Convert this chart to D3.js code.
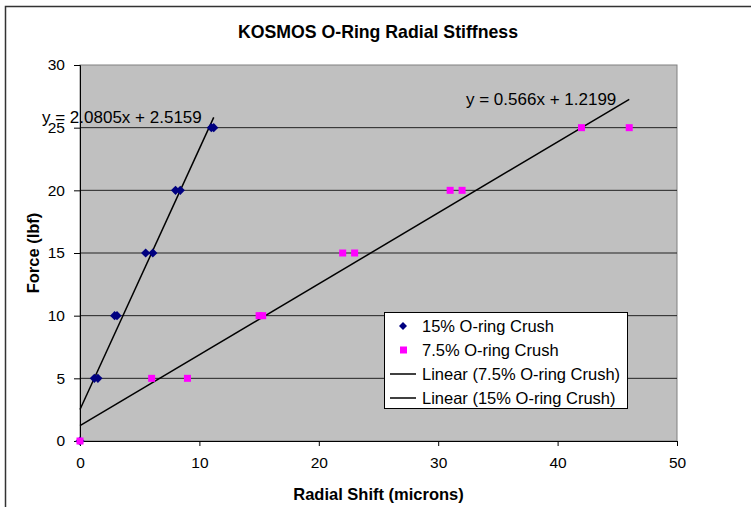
<!DOCTYPE html>
<html>
<head>
<meta charset="utf-8">
<script src="https://cdn.jsdelivr.net/npm/d3@7"></script>
<style>
  body { margin: 0; background: #fff; }
  text { font-family: "Liberation Sans", Arial, sans-serif; fill: #000; }
</style>
</head>
<body>
<svg></svg>
<script>
// 15% crush (navy diamonds)
let shift15 = [0, 1.2, 1.5, 2.9, 3.1, 5.5, 6.1, 8.0, 8.4, 11.0, 11.2];
let force15 = [0, 5, 5, 10, 10, 15, 15, 20, 20, 25, 25];
// 7.5% crush (magenta squares)
let shift75 = [0, 6, 9, 15, 15.3, 22, 23, 31, 32, 42, 46];
let force75 = [0, 5, 5, 10, 10, 15, 15, 20, 20, 25, 25];

// trendlines: [slope, intercept]
let fit15 = [2.0805, 2.5159];
let fit75 = [0.566, 1.2199];

let xTicks = [0, 10, 20, 30, 40, 50];
let yTicks = [0, 5, 10, 15, 20, 25, 30];
let legendLabels = ["15% O-ring Crush", "7.5% O-ring Crush", "Linear (7.5% O-ring Crush)", "Linear (15% O-ring Crush)"];

let width = 751;
let height = 507;
let plotLeft = 80, plotRight = 677, plotTop = 65, plotBottom = 441;

let svg = d3.select("svg").attr("width", width).attr("height", height);

let xScale = d3.scaleLinear().domain([0, 50]).range([plotLeft, plotRight]);
let yScale = d3.scaleLinear().domain([0, 30]).range([plotBottom, plotTop]);

// chart frame (runs off the picture on the right and bottom)
svg.append("rect")
  .attr("x", 5.5).attr("y", 6.5)
  .attr("width", 800).attr("height", 600)
  .attr("fill", "#fff").attr("stroke", "#333").attr("stroke-width", 1.5);

// plot area
svg.append("rect")
  .attr("x", plotLeft).attr("y", plotTop)
  .attr("width", plotRight - plotLeft).attr("height", plotBottom - plotTop)
  .attr("fill", "#c0c0c0").attr("stroke", "#808080");

// gridlines
svg.append("g")
  .selectAll("line")
  .data(yTicks.filter((d) => d > 0 && d < 30))
  .enter()
  .append("line")
  .attr("x1", plotLeft).attr("x2", plotRight)
  .attr("y1", (d) => yScale(d)).attr("y2", (d) => yScale(d))
  .attr("stroke", "#222").attr("stroke-width", 1);

// axes
let yAxis = d3.axisLeft(yScale).tickValues(yTicks).tickSize(6).tickPadding(9);
let xAxis = d3.axisBottom(xScale).tickValues(xTicks).tickSize(5).tickPadding(11);

let gy = svg.append("g").attr("transform", "translate(" + plotLeft + ",0)").call(yAxis);
let gx = svg.append("g").attr("transform", "translate(0," + plotBottom + ")").call(xAxis);
[gx, gy].forEach((g) => {
  g.selectAll("path").attr("stroke", "#000");
  g.selectAll("line").attr("stroke", "#000");
  g.selectAll("text").style("font-family", "'Liberation Sans', Arial, sans-serif")
    .style("font-size", "15.5px").attr("fill", "#000");
});

// trendlines
let drawFit = (fit, xs) => {
  let xmax = d3.max(xs);
  svg.append("line")
    .attr("x1", xScale(0)).attr("y1", yScale(fit[1]))
    .attr("x2", xScale(xmax)).attr("y2", yScale(fit[0] * xmax + fit[1]))
    .attr("stroke", "#000").attr("stroke-width", 1.5);
};
drawFit(fit15, shift15);
drawFit(fit75, shift75);

let diamond = (r) => "M0," + -r + "L" + r + ",0L0," + r + "L" + -r + ",0Z";

// 15% points
svg.append("g")
  .selectAll("path")
  .data(shift15.map((x, i) => [x, force15[i]]))
  .enter()
  .append("path")
  .attr("d", diamond(4.6))
  .attr("transform", (d) => "translate(" + xScale(d[0]) + "," + yScale(d[1]) + ")")
  .attr("fill", "#000080");

// 7.5% points
svg.append("g")
  .selectAll("rect")
  .data(shift75.map((x, i) => [x, force75[i]]))
  .enter()
  .append("rect")
  .attr("x", (d) => xScale(d[0]) - 3.5)
  .attr("y", (d) => yScale(d[1]) - 3.5)
  .attr("width", 7).attr("height", 7)
  .attr("fill", "#ff00ff");

// trendline equations
let eq = (fit) => "y = " + fit[0] + "x + " + fit[1];
svg.append("text").attr("x", 42).attr("y", 123)
  .style("font-size", "17px").text(eq(fit15));
svg.append("text").attr("x", 466).attr("y", 105)
  .style("font-size", "17px").text(eq(fit75));

// title
svg.append("text")
  .attr("x", 378).attr("y", 38)
  .attr("text-anchor", "middle")
  .style("font-size", "17.7px").style("font-weight", "bold")
  .text("KOSMOS O-Ring Radial Stiffness");

svg.append("text")
  .attr("x", (plotLeft + plotRight) / 2).attr("y", 500)
  .attr("text-anchor", "middle")
  .style("font-size", "16.5px").style("font-weight", "bold")
  .text("Radial Shift (microns)");

svg.append("text")
  .attr("transform", "translate(33," + (plotTop + plotBottom) / 2 + ") rotate(-90)")
  .attr("text-anchor", "middle").attr("dy", "0.35em")
  .style("font-size", "16.5px").style("font-weight", "bold")
  .text("Force (lbf)");

// legend
let legend = svg.append("g");
legend.append("rect")
  .attr("x", 384.5).attr("y", 312.5)
  .attr("width", 243).attr("height", 96)
  .attr("fill", "#fff").attr("stroke", "#000");

let rowY = (i) => 326 + i * 24;
legend.append("path").attr("d", diamond(4))
  .attr("transform", "translate(403," + rowY(0) + ")").attr("fill", "#000080");
legend.append("rect").attr("x", 400).attr("y", rowY(1) - 3.5)
  .attr("width", 7).attr("height", 7).attr("fill", "#ff00ff");
[2, 3].forEach((i) => {
  legend.append("line")
    .attr("x1", 390).attr("x2", 416)
    .attr("y1", rowY(i)).attr("y2", rowY(i))
    .attr("stroke", "#000").attr("stroke-width", 1.5);
});
legend.selectAll("text.lab")
  .data(legendLabels)
  .enter()
  .append("text")
  .attr("class", "lab")
  .attr("x", 422)
  .attr("y", (d, i) => rowY(i))
  .attr("dy", "0.36em")
  .style("font-size", "16.5px")
  .text((d) => d);
</script>
</body>
</html>
